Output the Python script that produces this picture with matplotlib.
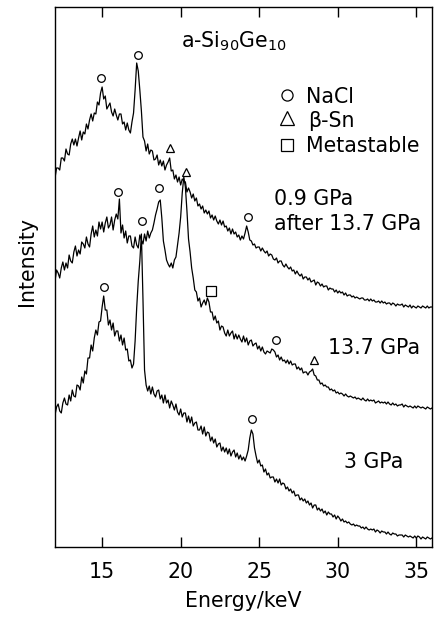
import numpy as np
import matplotlib
matplotlib.use("Agg")
import matplotlib.pyplot as plt

plt.rcParams['font.family'] = ['DejaVu Sans']
plt.rcParams['mathtext.fontset'] = 'dejavusans'

# channel energies (keV), 0.1 keV steps from 12.0 to 36.0
energy = np.round(np.arange(120, 361) / 10.0, 1)

# 0.9 GPa after 13.7 GPa (top trace), arbitrary intensity units
int_09_after = [
    369, 379, 379, 377, 389, 389, 386, 398, 393, 392,
    403, 408, 402, 408, 401, 409, 416, 407, 415, 413,
    423, 418, 427, 433, 426, 434, 433, 445, 442, 454,
    460, 448, 451, 438, 441, 444, 435, 431, 438, 432,
    427, 433, 433, 423, 425, 417, 424, 417, 414, 425,
    434, 457, 484, 476, 457, 436, 410, 406, 396, 403,
    393, 397, 396, 387, 388, 392, 382, 387, 381, 386,
    377, 382, 385, 389, 376, 377, 368, 372, 365, 370,
    362, 368, 366, 365, 355, 359, 355, 349, 353, 346,
    349, 341, 343, 338, 341, 334, 337, 333, 336, 329,
    332, 327, 331, 326, 323, 327, 322, 326, 320, 321,
    316, 319, 313, 318, 313, 315, 310, 312, 307, 311,
    308, 314, 321, 315, 307, 306, 302, 303, 299, 300,
    300, 296, 299, 296, 294, 296, 291, 293, 292, 288,
    287, 289, 284, 286, 286, 282, 280, 283, 280, 278,
    280, 276, 277, 273, 276, 273, 271, 273, 268, 270,
    270, 267, 269, 265, 266, 267, 262, 265, 264, 261,
    263, 260, 261, 261, 257, 259, 258, 258, 255, 257,
    254, 256, 254, 255, 252, 254, 251, 252, 252, 250,
    251, 249, 250, 249, 248, 249, 249, 247, 247, 248,
    246, 248, 246, 247, 245, 245, 246, 244, 246, 244,
    245, 243, 244, 244, 242, 244, 243, 241, 243, 242,
    242, 243, 240, 242, 241, 240, 242, 239, 241, 240,
    239, 241, 240, 239, 241, 240, 239, 241, 239, 240,
    240,
]

# 13.7 GPa (middle trace)
int_137 = [
    266, 277, 274, 269, 279, 285, 277, 284, 279, 292,
    286, 284, 295, 301, 291, 297, 293, 305, 303, 299,
    310, 303, 300, 313, 321, 310, 317, 311, 325, 318,
    325, 315, 324, 330, 319, 322, 330, 317, 327, 333,
    328, 348, 314, 322, 309, 316, 304, 311, 311, 301,
    299, 310, 302, 299, 312, 307, 303, 313, 306, 316,
    309, 314, 317, 324, 332, 338, 345, 347, 329, 306,
    297, 287, 283, 280, 284, 279, 287, 290, 302, 314,
    330, 354, 370, 360, 336, 308, 295, 279, 269, 257,
    255, 246, 249, 240, 244, 247, 242, 249, 245, 235,
    235, 227, 231, 224, 226, 217, 221, 220, 214, 211,
    217, 211, 214, 216, 208, 213, 208, 212, 208, 205,
    211, 205, 209, 202, 206, 207, 201, 203, 204, 198,
    201, 196, 200, 195, 193, 196, 195, 194, 198, 197,
    195, 190, 192, 187, 190, 186, 187, 184, 187, 183,
    186, 182, 183, 183, 178, 180, 177, 179, 174, 175,
    175, 172, 175, 176, 178, 172, 171, 167, 167, 163,
    164, 161, 162, 160, 160, 157, 158, 156, 157, 154,
    155, 153, 154, 153, 151, 153, 151, 150, 151, 150,
    149, 150, 148, 149, 148, 147, 149, 147, 146, 148,
    146, 147, 146, 147, 144, 145, 146, 144, 145, 144,
    145, 143, 145, 143, 142, 144, 142, 143, 141, 142,
    142, 143, 140, 142, 141, 140, 141, 140, 139, 141,
    139, 141, 140, 139, 140, 139, 138, 140, 139, 138,
    139,
]

# 3 GPa (bottom trace)
int_3 = [
    132, 140, 143, 136, 134, 144, 149, 143, 142, 152,
    146, 157, 151, 150, 162, 161, 157, 170, 164, 176,
    173, 189, 189, 202, 196, 209, 217, 212, 225, 226,
    240, 251, 237, 237, 222, 227, 217, 224, 211, 216,
    216, 206, 212, 202, 209, 197, 198, 186, 187, 179,
    183, 206, 239, 266, 286, 313, 248, 177, 162, 156,
    161, 153, 160, 153, 150, 156, 157, 148, 152, 144,
    152, 144, 147, 139, 146, 142, 137, 143, 135, 132,
    138, 130, 134, 134, 125, 131, 124, 130, 121, 124,
    125, 117, 117, 121, 113, 120, 111, 115, 114, 106,
    110, 104, 108, 100, 103, 104, 96, 100, 95, 99,
    93, 98, 91, 95, 97, 90, 94, 88, 92, 87,
    90, 86, 91, 97, 109, 117, 113, 99, 91, 84,
    87, 81, 82, 75, 78, 72, 74, 69, 70, 70,
    65, 68, 64, 68, 62, 64, 63, 58, 60, 56,
    58, 54, 56, 51, 52, 52, 47, 49, 46, 48,
    44, 46, 42, 44, 39, 42, 42, 37, 39, 36,
    38, 34, 36, 32, 35, 33, 33, 30, 32, 28,
    31, 29, 26, 28, 25, 26, 24, 25, 23, 22,
    23, 21, 22, 21, 21, 19, 20, 18, 20, 18,
    17, 18, 17, 18, 15, 17, 16, 14, 16, 15,
    15, 13, 15, 13, 12, 14, 13, 13, 11, 12,
    12, 12, 10, 12, 11, 10, 11, 10, 9, 11,
    9, 11, 10, 8, 10, 9, 8, 10, 9, 8,
    9,
]

# peak assignments (energy, height of the marker)
nacl_E = [14.94, 17.29, 24.27, 16.02, 18.62, 26.05, 15.13, 17.54, 24.52]
nacl_y = [469, 492, 330, 355, 359, 207, 260, 326, 128]
bsn_E = [19.32, 20.33, 28.46]
bsn_y = [399, 375, 187]
meta_E = [21.9]
meta_y = [256]

xticks = [15, 20, 25, 30, 35]
trace_labels = ["0.9 GPa", "after 13.7 GPa", "13.7 GPa", "3 GPa"]

fig = plt.figure(figsize=(4.37, 6.17), dpi=100)
ax = fig.add_axes([55 / 437, 1 - 547 / 617, 377 / 437, 540 / 617])

for trace in (int_09_after, int_137, int_3):
    ax.plot(energy, trace, color='black', lw=0.9)

mk = dict(linestyle='none', mfc='none', mec='black', mew=0.9)
ax.plot(nacl_E, nacl_y, marker='o', ms=5.5, **mk)
ax.plot(bsn_E, bsn_y, marker='^', ms=6, **mk)
ax.plot(meta_E, meta_y, marker='s', ms=6.5, **mk)

# key
ax.plot([26.75], [452], marker='o', ms=8, **mk)
ax.plot([26.8], [429], marker='^', ms=10.5, **mk)
ax.plot([26.8], [402], marker='s', ms=8.6, **mk)
fs = 14.8
ax.text(27.95, 444, "NaCl", fontsize=fs, ha='left', va='baseline')
ax.text(28.1, 420, "β-Sn", fontsize=fs, ha='left', va='baseline')
ax.text(27.95, 395, "Metastable", fontsize=fs, ha='left', va='baseline')

ax.text(20.0, 500, r"a-Si$_{90}$Ge$_{10}$", fontsize=fs, ha='left', va='baseline')
ax.text(25.92, 342, trace_labels[0], fontsize=fs, ha='left', va='baseline')
ax.text(25.92, 317, trace_labels[1], fontsize=fs, ha='left', va='baseline')
ax.text(29.41, 193, trace_labels[2], fontsize=fs, ha='left', va='baseline')
ax.text(30.37, 79, trace_labels[3], fontsize=fs, ha='left', va='baseline')

ax.set_xlim(12, 36)
ax.set_ylim(0, 540)
ax.set_xticks(xticks)
ax.set_xticklabels([str(t) for t in xticks], fontsize=fs)
ax.set_yticks([])
ax.tick_params(axis='x', direction='in', top=True, bottom=True, length=7,
               width=1.0, pad=11)
for s in ax.spines.values():
    s.set_linewidth(1.0)

ax.set_xlabel("Energy/keV", fontsize=fs, labelpad=6)
ax.set_ylabel("Intensity", fontsize=fs)
ax.yaxis.set_label_coords(-0.048, 0.528)

fig.savefig("out.png", dpi=100)
